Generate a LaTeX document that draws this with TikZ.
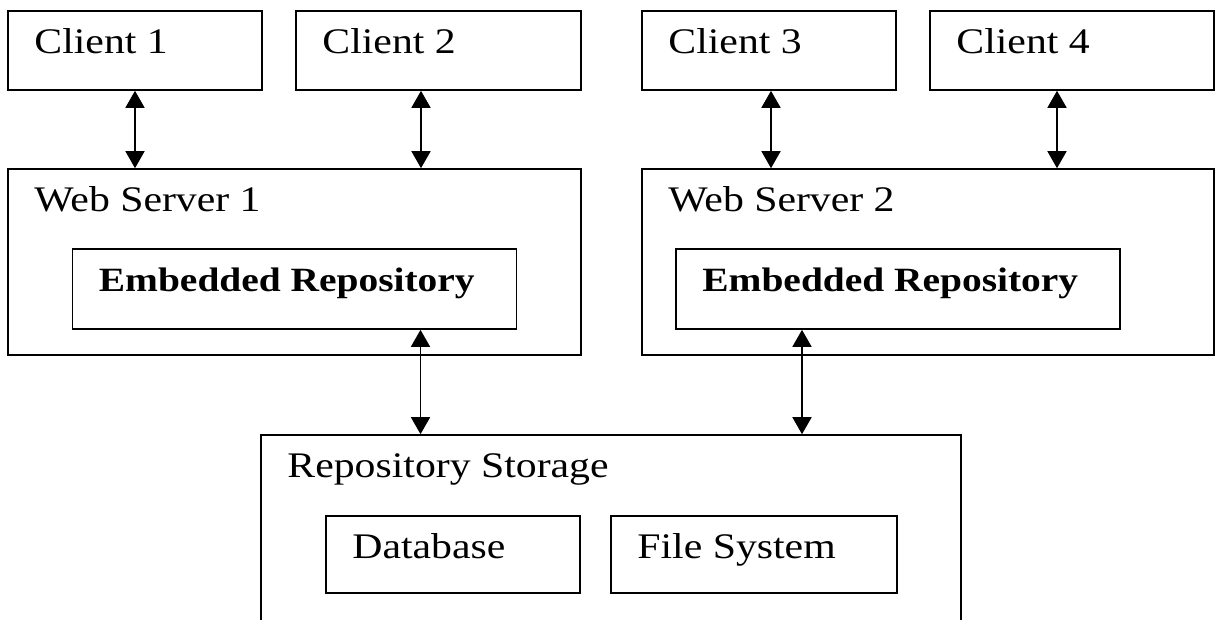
\documentclass[tikz,border=0pt]{standalone}
\usepackage{fontspec}
\setmainfont{Liberation Serif}[FakeStretch=1.16]
\usetikzlibrary{positioning, arrows.meta}

\begin{document}
\begin{tikzpicture}
    [
        x=1pt, y=1pt, on grid,
        box_node/.style={rectangle, draw=black, line width=1.6pt, inner sep=0pt, minimum height=79pt},
        box_text/.style={anchor=base west, xshift=27pt, yshift=-43pt, inner sep=0pt, font=\fontsize{36}{40}\selectfont},
        link/.style={{Triangle[length=17pt, width=19pt]}-{Triangle[length=17pt, width=19pt]}, line width=1.6pt, color=black},
    ]
        \useasboundingbox (0,0) rectangle (1216,-619);
        \clip (0,0) rectangle (1216,-619);
        \node[box_node, minimum width=254pt, label={[box_text, name=c1_text]north west:Client 1}] (c1) at (135,-50.5) {} ;
        \node[box_node, minimum width=285pt, label={[box_text, name=c2_text]north west:Client 2}] (c2) [right = 303.5pt of c1] {} ;
        \node[box_node, minimum width=254pt, label={[box_text, name=c3_text]north west:Client 3}] (c3) [right = 330.5pt of c2] {} ;
        \node[box_node, minimum width=284pt, label={[box_text, name=c4_text]north west:Client 4}] (c4) [right = 303pt of c3] {} ;
        \node[box_node, minimum width=573pt, minimum height=186pt, label={[box_text, name=ws1_text]north west:Web Server 1}] (ws1) at (294.5,-262) {} ;
        \node[box_node, minimum width=572pt, minimum height=186pt, label={[box_text, name=ws2_text]north west:Web Server 2}] (ws2) [right = 633.5pt of ws1] {} ;
        \node[box_node, minimum width=444pt, minimum height=80pt, label={[box_text, name=er1_text, font=\fontsize{34}{40}\selectfont\bfseries]north west:Embedded Repository}] (er1) [below = 27pt of ws1] {} ;
        \node[box_node, minimum width=444pt, minimum height=80pt, label={[box_text, name=er2_text, font=\fontsize{34}{40}\selectfont\bfseries]north west:Embedded Repository}] (er2) [below left = 27pt and 30pt of ws2] {} ;
        \node[box_node, minimum width=700pt, minimum height=230pt, label={[box_text, name=rs_text]north west:Repository Storage}] (rs) at (611,-550) {} ;
        \node[box_node, minimum width=254pt, minimum height=77pt, label={[box_text, name=db_text]north west:Database}] (db) [below left = 4.5pt and 158pt of rs] {} ;
        \node[box_node, minimum width=286pt, minimum height=77pt, label={[box_text, name=fs_text]north west:File System}] (fs) [right = 301pt of db] {} ;
        \draw[link] (c1.south) to (c1.south |- ws1.north) ;
        \draw[link] ([xshift=-17.5pt]c2.south) to ([xshift=-17.5pt]c2.south |- ws1.north) ;
        \draw[link] ([xshift=2pt]c3.south) to ([xshift=2pt]c3.south |- ws2.north) ;
        \draw[link] ([xshift=-15pt]c4.south) to ([xshift=-15pt]c4.south |- ws2.north) ;
        \draw[link] ([xshift=126pt]er1.south) to ([xshift=126pt]er1.south |- rs.north) ;
        \draw[link] ([xshift=-96pt]er2.south) to ([xshift=-96pt]er2.south |- rs.north) ;
    \end{tikzpicture}
\end{document}
